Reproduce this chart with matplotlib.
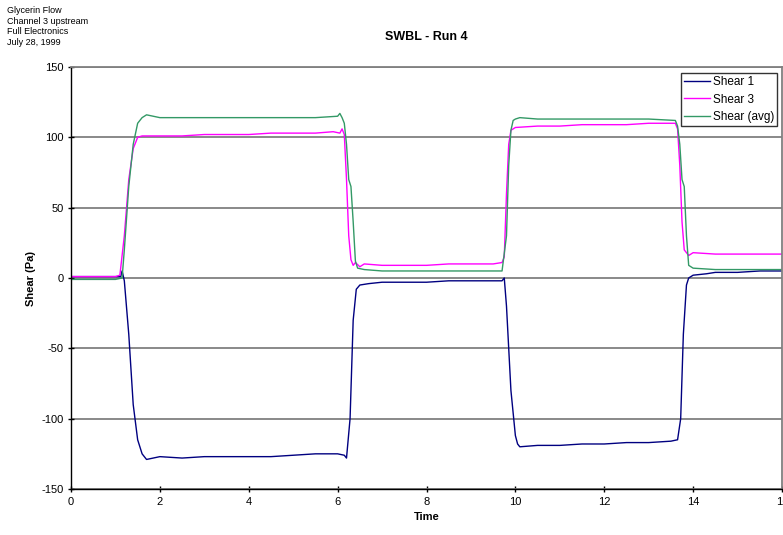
import matplotlib
matplotlib.use("Agg")
import matplotlib.pyplot as plt

plt.rcParams['font.family'] = ['Liberation Sans', 'DejaVu Sans']
plt.rcParams['axes.unicode_minus'] = False

# Shear 1 (blue)
t1 = [0, 0.3, 0.6, 0.9, 1.0, 1.12, 1.15, 1.2, 1.3, 1.4, 1.5, 1.6, 1.7, 2.0, 2.5, 3.0, 3.5, 4.0, 4.5, 5.0, 5.5, 6.0, 6.15, 6.2, 6.28, 6.35, 6.42, 6.5, 6.7, 7.0, 7.5, 8.0, 8.5, 9.0, 9.5, 9.7, 9.75, 9.8, 9.9, 10.0, 10.05, 10.1, 10.5, 11, 11.5, 12, 12.5, 13, 13.5, 13.65, 13.72, 13.78, 13.85, 13.9, 14.0, 14.3, 14.5, 15, 15.5, 16]
s1 = [1, 1, 1, 1, 1, 1, 5, -2, -40, -90, -115, -125, -129, -127, -128, -127, -127, -127, -127, -126, -125, -125, -126, -128, -100, -30, -8, -5, -4, -3, -3, -3, -2, -2, -2, -2, 0, -20, -80, -112, -118, -120, -119, -119, -118, -118, -117, -117, -116, -115, -100, -40, -5, 0, 2, 3, 4, 4, 5, 5]

# Shear 3 (magenta)
t3 = [0, 0.5, 1.0, 1.1, 1.2, 1.3, 1.4, 1.5, 1.6, 2, 2.5, 3, 3.5, 4, 4.5, 5, 5.5, 5.9, 6.05, 6.1, 6.15, 6.2, 6.25, 6.3, 6.35, 6.4, 6.5, 6.6, 7, 7.5, 8, 8.5, 9, 9.5, 9.7, 9.75, 9.8, 9.85, 9.9, 10.0, 10.5, 11, 11.5, 12, 12.5, 13, 13.5, 13.6, 13.65, 13.7, 13.75, 13.8, 13.9, 14.0, 14.5, 15, 15.5, 16]
s3 = [1, 1, 1, 2, 30, 70, 92, 100, 101, 101, 101, 102, 102, 102, 103, 103, 103, 104, 103, 106, 102, 70, 30, 13, 9, 11, 8, 10, 9, 9, 9, 10, 10, 10, 11, 15, 60, 95, 105, 107, 108, 108, 109, 109, 109, 110, 110, 110, 106, 80, 40, 20, 16, 18, 17, 17, 17, 17]

# Shear (avg) (green)
t4 = [0, 0.5, 1.0, 1.15, 1.2, 1.3, 1.4, 1.5, 1.6, 1.7, 2, 2.5, 3, 3.5, 4, 4.5, 5, 5.5, 6.0, 6.05, 6.1, 6.15, 6.2, 6.25, 6.3, 6.35, 6.4, 6.45, 6.6, 7, 7.5, 8, 8.5, 9, 9.5, 9.7, 9.8, 9.85, 9.9, 9.95, 10.0, 10.1, 10.5, 11, 11.5, 12, 12.5, 13, 13.6, 13.65, 13.7, 13.75, 13.8, 13.85, 13.9, 14.0, 14.5, 15, 15.5, 16]
s4 = [-1, -1, -1, 0, 20, 65, 95, 110, 114, 116, 114, 114, 114, 114, 114, 114, 114, 114, 115, 117, 114, 110, 95, 70, 65, 40, 12, 7, 6, 5, 5, 5, 5, 5, 5, 5, 30, 80, 105, 112, 113, 114, 113, 113, 113, 113, 113, 113, 112, 108, 95, 70, 65, 30, 9, 7, 6, 6, 6, 6]

xticks = [0, 2, 4, 6, 8, 10, 12, 14, 16]
yticks = [-150, -100, -50, 0, 50, 100, 150]

fig = plt.figure(figsize=(7.83, 5.35), dpi=100)
ax = fig.add_axes([71/783, 1-489/535, (782-71)/783, (489-67)/535])

ax.plot(t1, s1, color='#000080', lw=1.0, label='Shear 1')
ax.plot(t3, s3, color='#ff00ff', lw=1.0, label='Shear 3')
ax.plot(t4, s4, color='#339966', lw=1.0, label='Shear (avg)')

ax.set_xlim(0, 16)
ax.set_ylim(-150, 150)
ax.set_xticks(xticks)
ax.set_yticks(yticks)
ax.tick_params(labelsize=8, length=4, direction='inout', width=1)
ax.yaxis.grid(True, color='#808080', lw=1.3)
ax.set_axisbelow(True)
for s in ['top', 'right']:
    ax.spines[s].set_color('#808080')
    ax.spines[s].set_linewidth(1.3)
for s in ['left', 'bottom']:
    ax.spines[s].set_color('black')
    ax.spines[s].set_linewidth(1.0)

ax.set_xlabel('Time', fontsize=8, fontweight='bold')
ax.set_ylabel('Shear (Pa)', fontsize=8, fontweight='bold')
fig.text(0.545, 1-37/535, 'SWBL - Run 4', fontsize=9, fontweight='bold', ha='center', va='center')
fig.text(7/783, 1-6/535, 'Glycerin Flow\nChannel 3 upstream\nFull Electronics\nJuly 28, 1999',
         fontsize=6.5, ha='left', va='top', linespacing=1.25)

leg = ax.legend(loc='upper right', fontsize=8.5, frameon=True, fancybox=False,
                edgecolor='black', borderpad=0.3, handlelength=2.2, handletextpad=0.2,
                labelspacing=0.45, borderaxespad=0.3, bbox_to_anchor=(0.9986, 0.995))
leg.get_frame().set_linewidth(1.0)

fig.savefig('out.png', dpi=100)
